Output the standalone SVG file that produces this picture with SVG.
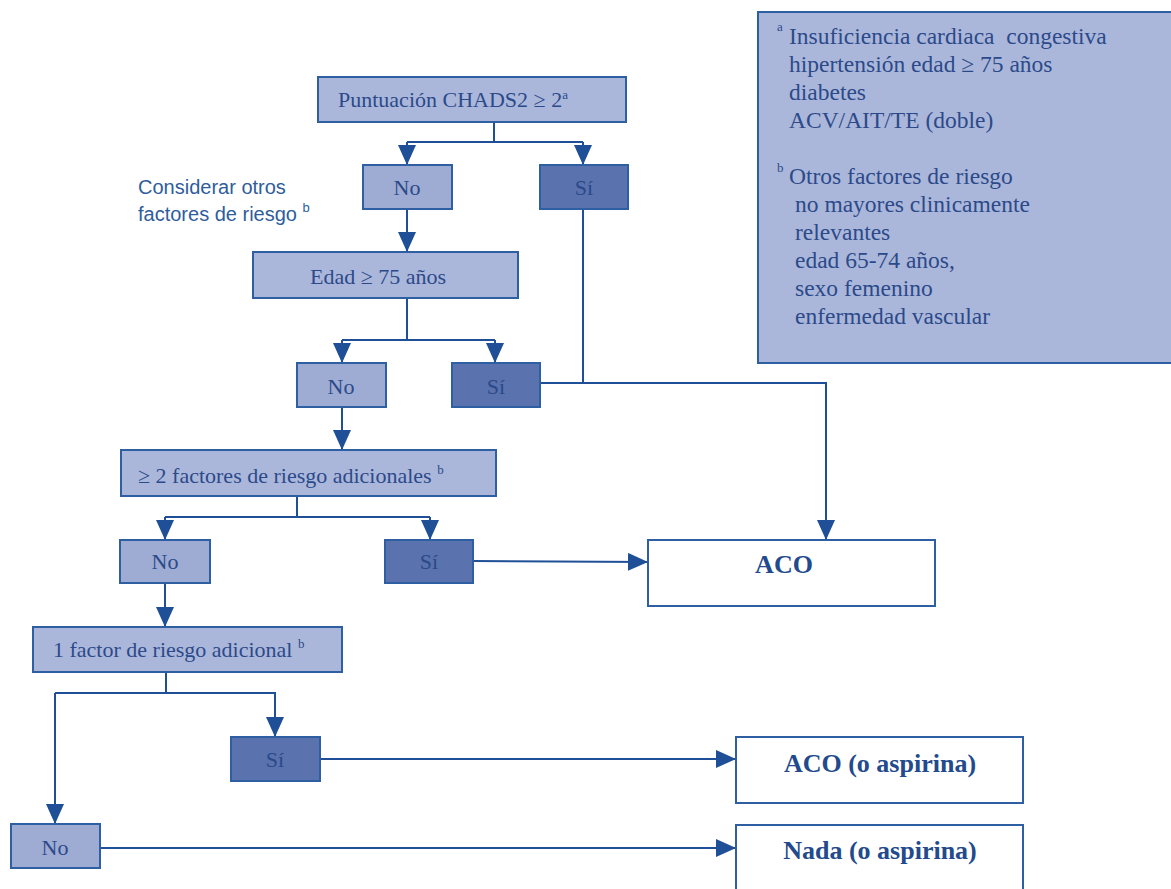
<svg xmlns="http://www.w3.org/2000/svg" width="1171" height="889" viewBox="0 0 1171 889">
<defs>
<style>
.light{fill:#abb7da;stroke:#2f5fa3;stroke-width:2}
.no{fill:#9eabd3;stroke:#2f5fa3;stroke-width:2}
.si{fill:#5a72ad;stroke:#2f5fa3;stroke-width:2}
.out{fill:#ffffff;stroke:#2f5fa3;stroke-width:2}
.t{font-family:"Liberation Serif","Times New Roman",serif;font-size:22px;fill:#2b4a8a}
.c{text-anchor:middle}
.b{font-weight:bold;font-size:26px;fill:#224a8c}
.sup{font-size:13px}
.lg{font-family:"Liberation Serif","Times New Roman",serif;font-size:23.5px;fill:#2b4a8a;white-space:pre}
.side{font-family:"Liberation Sans",Arial,sans-serif;font-size:20px;fill:#2f5d9c}
.ln{fill:none;stroke:#1f4f96;stroke-width:2}
</style>
<marker id="ah" viewBox="0 0 20 18" refX="20" refY="9" markerWidth="20" markerHeight="18" markerUnits="userSpaceOnUse" orient="auto">
<path d="M0,0 L20,9 L0,18 z" fill="#1f4f96"/>
</marker>
</defs>
<rect width="1171" height="889" fill="#ffffff"/>

<g id="legend">
<rect x="758" y="12" width="420" height="351" class="light"/>
<text class="lg" xml:space="preserve"><tspan x="777" y="31" class="sup">a</tspan><tspan x="789" y="44">Insuficiencia cardiaca  congestiva</tspan></text>
<text class="lg" x="789" y="72">hipertensión edad ≥ 75 años</text>
<text class="lg" x="789" y="100">diabetes</text>
<text class="lg" x="789" y="128">ACV/AIT/TE (doble)</text>
<text class="lg"><tspan x="777" y="172" class="sup">b</tspan><tspan x="789" y="184">Otros factores de riesgo</tspan></text>
<text class="lg" x="795" y="212">no mayores clinicamente</text>
<text class="lg" x="795" y="240">relevantes</text>
<text class="lg" x="795" y="268">edad 65-74 años,</text>
<text class="lg" x="795" y="296">sexo femenino</text>
<text class="lg" x="795" y="324">enfermedad vascular</text>
</g>

<g id="connectors">
<polyline class="ln" points="494,122 494,142"/>
<polyline class="ln" points="407,142 583,142"/>
<line class="ln" x1="407" y1="142" x2="407" y2="165" marker-end="url(#ah)"/>
<line class="ln" x1="583" y1="142" x2="583" y2="165" marker-end="url(#ah)"/>
<line class="ln" x1="407" y1="209" x2="407" y2="252" marker-end="url(#ah)"/>
<polyline class="ln" points="407,298 407,340"/>
<polyline class="ln" points="342,340 495,340"/>
<line class="ln" x1="342" y1="340" x2="342" y2="363" marker-end="url(#ah)"/>
<line class="ln" x1="495" y1="340" x2="495" y2="363" marker-end="url(#ah)"/>
<polyline class="ln" points="583,209 583,383"/>
<polyline class="ln" points="540,383 826,383 826,540" marker-end="url(#ah)"/>
<line class="ln" x1="342" y1="407" x2="342" y2="450" marker-end="url(#ah)"/>
<polyline class="ln" points="297,496 297,517"/>
<polyline class="ln" points="165,517 430,517"/>
<line class="ln" x1="165" y1="517" x2="165" y2="540" marker-end="url(#ah)"/>
<line class="ln" x1="430" y1="517" x2="430" y2="540" marker-end="url(#ah)"/>
<line class="ln" x1="473" y1="561" x2="648" y2="562" marker-end="url(#ah)"/>
<line class="ln" x1="165" y1="583" x2="165" y2="627" marker-end="url(#ah)"/>
<polyline class="ln" points="166,672 166,693"/>
<polyline class="ln" points="55,693 275,693 275,737" marker-end="url(#ah)"/>
<line class="ln" x1="55" y1="693" x2="55" y2="824" marker-end="url(#ah)"/>
<line class="ln" x1="320" y1="759" x2="736" y2="759" marker-end="url(#ah)"/>
<line class="ln" x1="100" y1="848" x2="736" y2="848" marker-end="url(#ah)"/>
</g>

<g id="n_chads">
<rect x="318" y="77" width="308" height="45" class="light"/>
<text class="t" x="338" y="107">Puntuación CHADS2 ≥ 2<tspan class="sup" dy="-8">a</tspan></text>
</g>
<g id="n_no1">
<rect x="363" y="165" width="89" height="44" class="no"/>
<text class="t c" x="407" y="195">No</text>
</g>
<g id="n_si1">
<rect x="540" y="165" width="88" height="44" class="si"/>
<text class="t c" x="584" y="195">Sí</text>
</g>
<g id="n_considerar">
<text class="side" x="138" y="194">Considerar otros</text>
<text class="side" x="138" y="221">factores de riesgo <tspan class="sup" dy="-9">b</tspan></text>
</g>
<g id="n_edad">
<rect x="253" y="252" width="265" height="46" class="light"/>
<text class="t c" x="378" y="284">Edad ≥ 75 años</text>
</g>
<g id="n_no2">
<rect x="297" y="363" width="89" height="44" class="no"/>
<text class="t c" x="341" y="394">No</text>
</g>
<g id="n_si2">
<rect x="452" y="363" width="88" height="44" class="si"/>
<text class="t c" x="496" y="394">Sí</text>
</g>
<g id="n_dos">
<rect x="121" y="450" width="375" height="46" class="light"/>
<text class="t" x="138" y="483">≥ 2 factores de riesgo adicionales <tspan class="sup" dy="-9">b</tspan></text>
</g>
<g id="n_no3">
<rect x="120" y="540" width="90" height="43" class="no"/>
<text class="t c" x="165" y="569">No</text>
</g>
<g id="n_si3">
<rect x="385" y="540" width="88" height="43" class="si"/>
<text class="t c" x="429" y="569">Sí</text>
</g>
<g id="n_aco">
<rect x="648" y="540" width="287" height="66" class="out"/>
<text class="t c b" x="784" y="573">ACO</text>
</g>
<g id="n_uno">
<rect x="33" y="627" width="309" height="45" class="light"/>
<text class="t" x="53" y="657">1 factor de riesgo adicional <tspan class="sup" dy="-9">b</tspan></text>
</g>
<g id="n_si4">
<rect x="231" y="737" width="89" height="44" class="si"/>
<text class="t c" x="275" y="767">Sí</text>
</g>
<g id="n_no4">
<rect x="11" y="824" width="89" height="44" class="no"/>
<text class="t c" x="55" y="855">No</text>
</g>
<g id="n_acoasp">
<rect x="736" y="737" width="287" height="66" class="out"/>
<text class="t c b" x="880" y="772">ACO (o aspirina)</text>
</g>
<g id="n_nada">
<rect x="736" y="825" width="287" height="70" class="out"/>
<text class="t c b" x="880" y="859">Nada (o aspirina)</text>
</g>
</svg>
